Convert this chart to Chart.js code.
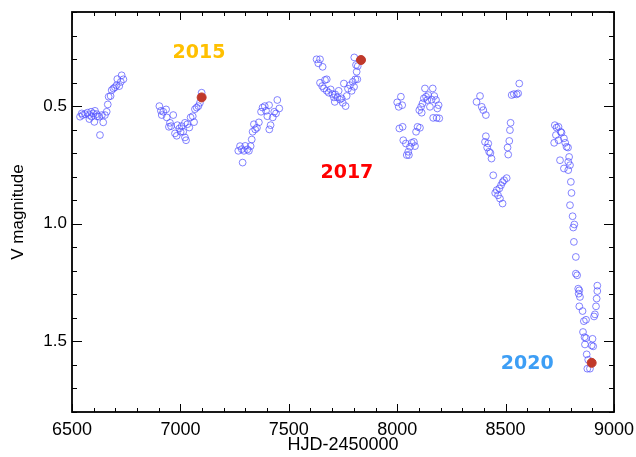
<!DOCTYPE html>
<html>
<head>
  <meta charset="UTF-8" />
  <title>V magnitude light curve</title>
  <style>
    html, body { margin: 0; padding: 0; background: #ffffff; }
    #wrap { width: 636px; height: 457px; }
  </style>
</head>
<body>
  <div id="wrap"><canvas id="lightCurve"></canvas></div>

  <script src="https://cdn.jsdelivr.net/npm/chart.js"></script>
  <script>
    const hjd = [
      6537, 6545, 6549, 6560, 6571, 6580, 6580, 6588, 6591, 6598, 6603, 6606, 6614, 6617, 6626, 6629,
      6638, 6644, 6652, 6660, 6665, 6669, 6678, 6683, 6691, 6698, 6706, 6709, 6718, 6725, 6729, 6737,
      6903, 6910, 6914, 6921, 6934, 6937, 6947, 6952, 6957, 6967, 6975, 6983, 6986, 6995, 7001, 7006,
      7013, 7021, 7021, 7026, 7032, 7041, 7047, 7057, 7063, 7067, 7075, 7083, 7090, 7098,
      7267, 7275, 7283, 7287, 7293, 7299, 7309, 7316, 7324, 7329, 7333, 7339, 7345, 7353, 7362, 7372,
      7379, 7389, 7395, 7401, 7409, 7410, 7416, 7426, 7433, 7441, 7447, 7456,
      7628, 7636, 7644, 7644, 7654, 7656, 7662, 7667, 7675, 7675, 7684, 7693, 7701, 7708, 7712, 7714,
      7724, 7730, 7736, 7744, 7749, 7754, 7762, 7767, 7773, 7782, 7790, 7795, 7801, 7802, 7807, 7810,
      7813, 7816, 7818,
      8000, 8007, 8010, 8017, 8023, 8025, 8028, 8040, 8044, 8051, 8054, 8059, 8067, 8077, 8082, 8087,
      8094, 8102, 8105, 8110, 8113, 8117, 8123, 8128, 8133, 8139, 8143, 8151, 8159, 8164, 8166, 8171,
      8179, 8182, 8185, 8191, 8194,
      8366, 8382, 8390, 8397, 8405, 8409, 8409, 8415, 8420, 8424, 8430, 8435, 8443, 8452, 8459, 8465,
      8471, 8474, 8479, 8486, 8486, 8493, 8505, 8509, 8512, 8517, 8520, 8523, 8528, 8538, 8551, 8558,
      8563,
      8724, 8727, 8732, 8735, 8744, 8744, 8751, 8754, 8758, 8769, 8769, 8775, 8781, 8788, 8789, 8789,
      8793, 8797, 8797, 8801, 8804, 8809, 8812, 8817, 8815, 8824, 8824, 8830, 8835, 8837, 8840, 8840,
      8843, 8855, 8857, 8861, 8864, 8866, 8871, 8871, 8874, 8877, 8881, 8889, 8897, 8901, 8904, 8908,
      8912, 8917, 8920, 8923, 8923
    ];
    const vmag = [
      0.545, 0.531, 0.538, 0.534, 0.528, 0.538, 0.555, 0.524, 0.545, 0.531, 0.567, 0.520, 0.534, 0.543, 0.545, 0.623,
      0.538, 0.569, 0.538, 0.524, 0.493, 0.460, 0.457, 0.432, 0.425, 0.420, 0.411, 0.385, 0.415, 0.397, 0.369, 0.386,
      0.500, 0.520, 0.538, 0.524, 0.514, 0.548, 0.588, 0.571, 0.585, 0.538, 0.616, 0.626, 0.581, 0.595, 0.609, 0.585,
      0.609, 0.633, 0.571, 0.645, 0.577, 0.591, 0.548, 0.543, 0.568, 0.513, 0.506, 0.500, 0.486, 0.443,
      0.690, 0.670, 0.683, 0.740, 0.690, 0.669, 0.684, 0.690, 0.670, 0.642, 0.609, 0.577, 0.599, 0.592, 0.569, 0.524,
      0.506, 0.500, 0.520, 0.543, 0.496, 0.599, 0.581, 0.548, 0.524, 0.531, 0.474, 0.510,
      0.301, 0.318, 0.301, 0.401, 0.415, 0.333, 0.425, 0.389, 0.386, 0.435, 0.443, 0.429, 0.449, 0.463, 0.482, 0.450,
      0.463, 0.435, 0.472, 0.467, 0.486, 0.404, 0.500, 0.457, 0.426, 0.411, 0.435, 0.397, 0.418, 0.293, 0.386, 0.325,
      0.354, 0.386, 0.330,
      0.484, 0.503, 0.595, 0.460, 0.496, 0.588, 0.645, 0.659, 0.708, 0.694, 0.708, 0.673, 0.656, 0.652, 0.670, 0.609,
      0.588, 0.517, 0.592, 0.503, 0.528, 0.488, 0.467, 0.425, 0.460, 0.474, 0.453, 0.503, 0.472, 0.425, 0.550, 0.457,
      0.474, 0.550, 0.510, 0.496, 0.552,
      0.482, 0.457, 0.503, 0.517, 0.652, 0.538, 0.628, 0.676, 0.659, 0.694, 0.699, 0.723, 0.794, 0.869, 0.857, 0.879,
      0.850, 0.893, 0.836, 0.823, 0.914, 0.815, 0.806, 0.676, 0.706, 0.648, 0.602, 0.571, 0.453, 0.449, 0.450, 0.446,
      0.404,
      0.656, 0.581, 0.623, 0.591, 0.588, 0.645, 0.730, 0.609, 0.613, 0.637, 0.765, 0.656, 0.673, 0.676, 0.737, 0.772,
      0.716, 0.751, 0.921, 0.822, 0.869, 0.968, 1.016, 1.003, 1.077, 1.141, 1.212, 1.219, 1.276, 1.297, 1.283, 1.351,
      1.311, 1.371, 1.460, 1.414, 1.482, 1.513, 1.408, 1.486, 1.555, 1.616, 1.578, 1.616, 1.517, 1.489, 1.521, 1.394,
      1.385, 1.351, 1.318, 1.286, 1.263
    ];

    // the three epochs marked in red
    const keyHjd = [7098, 7833, 8897];
    const keyVmag = [0.463, 0.304, 1.591];

    // year labels (text, colour, position in data units)
    const yearText = ['2015', '2017', '2020'];
    const yearColor = ['#ffc000', '#ff0000', '#3d9ef5'];
    const yearHjd = [7086, 7768, 8600];
    const yearVmag = [0.274, 0.785, 1.598];

    const xTicks = [6500, 7000, 7500, 8000, 8500, 9000];
    const yTicks = [0.5, 1.0, 1.5];

    const FONT = '"Liberation Sans", Arial, Helvetica, sans-serif';

    const points = hjd.map((x, i) => ({ x, y: vmag[i] }));
    const keyPoints = keyHjd.map((x, i) => ({ x, y: keyVmag[i] }));

    // box with inward ticks on all four sides, plus the year labels
    const framePlugin = {
      id: 'frame',
      afterDraw(chart) {
        const { ctx, chartArea: a, scales: { x, y } } = chart;
        ctx.save();
        ctx.strokeStyle = '#000';
        ctx.lineWidth = 1;
        ctx.beginPath();
        for (let v = x.min; v <= x.max; v += 100) {
          const px = Math.round(x.getPixelForValue(v)) + 0.5;
          const len = v % 500 === 0 ? 8 : 4;
          ctx.moveTo(px, a.bottom); ctx.lineTo(px, a.bottom - len);
          ctx.moveTo(px, a.top); ctx.lineTo(px, a.top + len);
        }
        for (let i = 1; i <= 18; i++) {
          const v = i / 10;
          if (v < y.min || v > y.max) continue;
          const py = Math.round(y.getPixelForValue(v)) + 0.5;
          const len = i % 5 === 0 ? 10 : 5;
          ctx.moveTo(a.left, py); ctx.lineTo(a.left + len, py);
          ctx.moveTo(a.right, py); ctx.lineTo(a.right - len, py);
        }
        ctx.stroke();
        ctx.lineWidth = 1.8;
        ctx.strokeRect(a.left, a.top, a.right - a.left, a.bottom - a.top);

        ctx.font = 'bold 19px "DejaVu Sans", sans-serif';
        ctx.textAlign = 'center';
        ctx.textBaseline = 'middle';
        yearText.forEach((t, i) => {
          ctx.fillStyle = yearColor[i];
          ctx.fillText(t, x.getPixelForValue(yearHjd[i]), y.getPixelForValue(yearVmag[i]));
        });
        ctx.restore();
      }
    };

    new Chart(document.getElementById('lightCurve'), {
      type: 'scatter',
      data: {
        datasets: [
          {
            label: 'Key epochs',
            data: keyPoints,
            pointStyle: 'circle',
            pointRadius: 4.5,
            backgroundColor: '#c0392b',
            borderColor: '#c0392b',
            borderWidth: 1,
            order: 0
          },
          {
            label: 'V',
            data: points,
            pointStyle: 'circle',
            pointRadius: 3.4,
            backgroundColor: 'rgba(0,0,0,0)',
            borderColor: 'rgba(80,80,255,0.7)',
            borderWidth: 1,
            order: 1
          }
        ]
      },
      options: {
        responsive: true,
        maintainAspectRatio: false,
        animation: false,
        layout: { padding: { top: 12, right: 22, left: 0, bottom: 0 } },
        plugins: {
          legend: { display: false },
          tooltip: { enabled: false }
        },
        scales: {
          x: {
            type: 'linear',
            min: 6500,
            max: 9000,
            grid: { display: false, drawTicks: false },
            border: { display: false },
            afterBuildTicks: s => { s.ticks = xTicks.map(v => ({ value: v })); },
            afterFit: s => { s.height = 45; s.paddingLeft = 0; s.paddingRight = 0; },
            ticks: {
              color: '#000',
              padding: 7,
              maxRotation: 0,
              font: { family: FONT, size: 18 },
              callback: v => String(v)
            },
            title: {
              display: true,
              text: 'HJD-2450000',
              color: '#000',
              padding: { top: 0, bottom: 1 },
              font: { family: FONT, size: 18 }
            }
          },
          y: {
            type: 'linear',
            reverse: true,
            min: 0.1,
            max: 1.8,
            grid: { display: false, drawTicks: false },
            border: { display: false },
            afterBuildTicks: s => { s.ticks = yTicks.map(v => ({ value: v })); },
            afterFit: s => { s.width = 72; s.paddingTop = 0; s.paddingBottom = 0; },
            ticks: {
              color: '#000',
              padding: 5,
              font: { family: FONT, size: 17 },
              callback: v => v.toFixed(1)
            },
            title: {
              display: true,
              text: 'V magnitude',
              color: '#000',
              padding: { top: 8, bottom: 0 },
              font: { family: FONT, size: 17 }
            }
          }
        }
      },
      plugins: [framePlugin]
    });
  </script>
</body>
</html>
